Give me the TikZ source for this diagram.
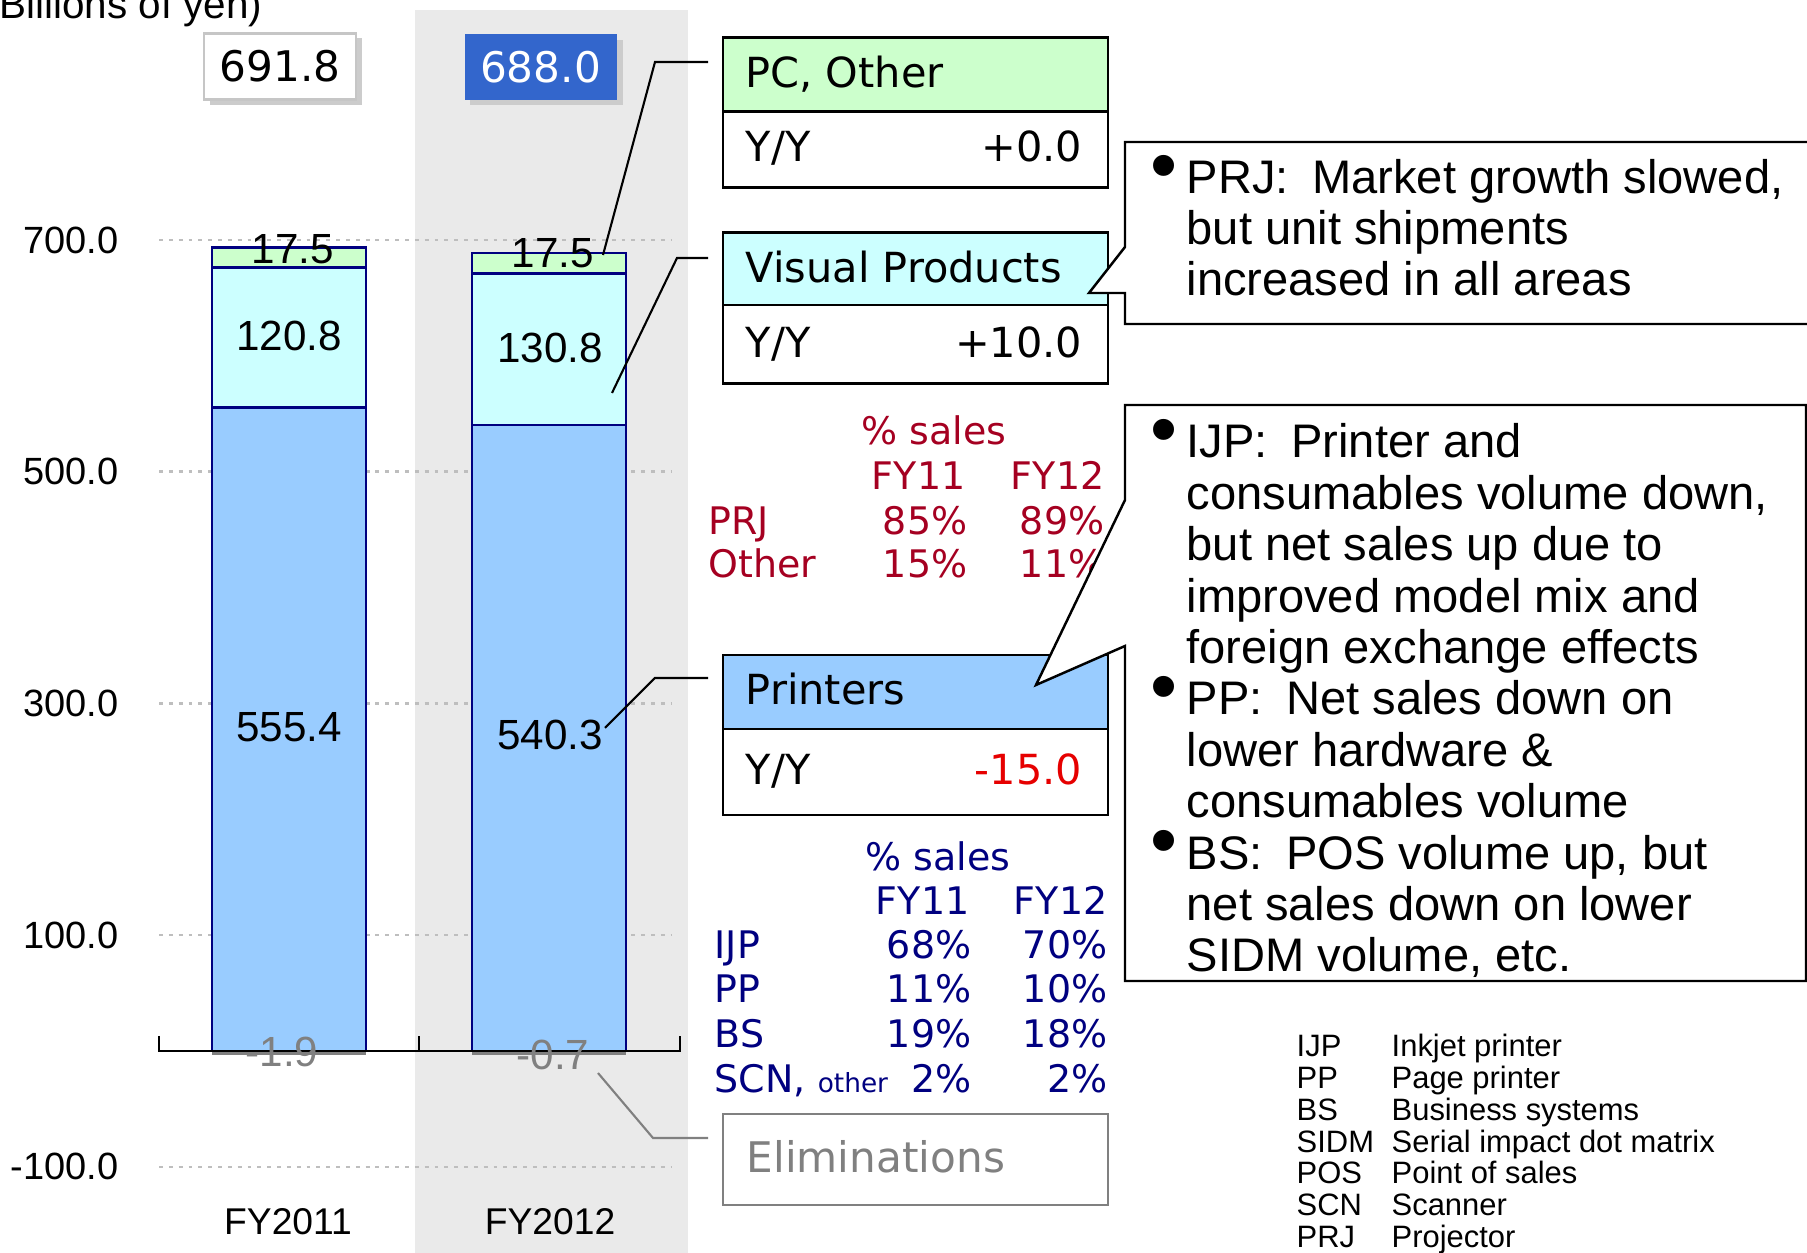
\documentclass[tikz,border=0pt]{standalone}
\usepackage{fontspec}
\setmainfont{Liberation Sans}
\newfontfamily\dejavu{DejaVu Sans}
\definecolor{pcgreen}{RGB}{204,255,204}
\definecolor{vpcyan}{RGB}{204,255,255}
\definecolor{prblue}{RGB}{153,204,255}
\definecolor{barline}{RGB}{0,0,128}
\definecolor{band}{RGB}{234,234,234}
\definecolor{totblue}{RGB}{51,102,204}
\definecolor{prjred}{RGB}{165,0,33}
\definecolor{navytxt}{RGB}{0,0,128}
\definecolor{yyred}{RGB}{230,0,0}
\definecolor{elimgray}{RGB}{128,128,128}
\definecolor{gridgray}{RGB}{190,190,190}
\begin{document}
\begin{tikzpicture}[x=0.1mm, y=-0.1mm,
        every node/.style={inner sep=0pt},
        gridline/.style={gridgray, line width=0.7pt, dash pattern=on 1.1pt off 1.7pt},
        seg/.style={draw=barline, line width=0.7pt},
        lbl/.style={font=\fontsize{12}{14}\selectfont},
        ax/.style={font=\fontsize{10.8}{13}\selectfont, anchor=east},
        total/.style={minimum width=15.2mm, minimum height=6.6mm, font=\dejavu\fontsize{12}{14}\selectfont},
        segbox/.style={draw, line width=0.8pt, minimum width=38.5mm},
        boxtxt/.style={font=\dejavu\fontsize{11.8}{14}\selectfont},
        leader/.style={line width=0.6pt},
        share/.style={font=\dejavu\fontsize{10.8}{13}\selectfont},
        callout/.style={draw, fill=white, line width=0.7pt},
        note/.style={font=\fontsize{13.4}{15}\selectfont, anchor=base west},
        dot/.style={font=\fontsize{22}{24}\selectfont},
        abbr/.style={font=\fontsize{8.8}{10}\selectfont, anchor=base west}]
    \useasboundingbox (0,0) rectangle (1807,1253);
    % shaded FY2012 column
    \fill[band] (415,10) rectangle (688,1253);
    \node[font=\fontsize{11.5}{13}\selectfont, anchor=base east] (unit) at (263,19) {(Billions of yen)};

    % grid and value axis
    \draw[gridline] (159,240) -- (672,240);
    \draw[gridline] (159,471.7) -- (672,471.7);
    \draw[gridline] (159,703.4) -- (672,703.4);
    \draw[gridline] (159,935.1) -- (672,935.1);
    \draw[gridline] (159,1166.9) -- (672,1166.9);
    \node[ax] (y700) at (119,240) {700.0};
    \node[ax] (y500) at (119,471.7) {500.0};
    \node[ax] (y300) at (119,703.4) {300.0};
    \node[ax] (y100) at (119,935.1) {100.0};
    \node[ax] (ym100) at (119,1166.9) {-100.0};

    % FY2011 bar
    \draw[seg, fill=prblue] (212,1051) rectangle (366,407.5);
    \draw[seg, fill=vpcyan] (212,407.5) rectangle (366,267.6);
    \draw[seg, fill=pcgreen] (212,267.6) rectangle (366,247.3);
    \draw[elimgray, line width=1.2pt] (212,1053) -- (366,1053);
    % FY2012 bar
    \draw[seg, fill=prblue] (472,1051) rectangle (626,425);
    \draw[seg, fill=vpcyan] (472,425) rectangle (626,273.5);
    \draw[seg, fill=pcgreen] (472,273.5) rectangle (626,253.2);
    \draw[elimgray, line width=1.2pt] (472,1053) -- (626,1053);

    % category axis
    \draw[line width=0.6pt] (159,1036) -- (159,1051) -- (680,1051) -- (680,1036);
    \draw[line width=0.6pt] (419,1051) -- (419,1036);
    \node[font=\fontsize{10.6}{13}\selectfont] (fy11) at (288,1222) {FY2011};
    \node[font=\fontsize{10.6}{13}\selectfont] (fy12) at (550,1222) {FY2012};

    % segment values
    \node[lbl] (pc11) at (293,249) {17.5};
    \node[lbl] (vp11) at (289,336) {120.8};
    \node[lbl] (pr11) at (289,727) {555.4};
    \node[lbl, elimgray] (el11) at (282,1052) {-1.9};
    \node[lbl] (pc12) at (553,253) {17.5};
    \node[lbl] (vp12) at (550,348) {130.8};
    \node[lbl] (pr12) at (550,735) {540.3};
    \node[lbl, elimgray] (el12) at (553,1055) {-0.7};

    % totals
    \fill[gray!40] (210,38) rectangle (362,105);
    \node[total, draw=gray!45, line width=0.6pt, fill=white] (tot11) at (280,66.5) {691.8};
    \fill[gray!40] (470,40) rectangle (623,105);
    \node[total, fill=totblue, text=white] (tot12) at (540.5,67.5) {688.0};

    % PC, Other
    \node[segbox, fill=pcgreen, minimum height=7.44mm] (pcHead) at (915.5,74.5) {};
    \node[segbox, minimum height=7.56mm] (pcRow) at (915.5,149.5) {};
    \node[boxtxt, anchor=base west] (pcName) at (745,88) {PC, Other};
    \node[boxtxt, anchor=base west] (pcYY) at (745,162) {Y/Y};
    \node[boxtxt, anchor=base east] (pcVal) at (1083,162) {+0.0};
    % Visual Products
    \node[segbox, fill=vpcyan, minimum height=7.27mm] (vpHead) at (915.5,268.65) {};
    \node[segbox, minimum height=7.83mm] (vpRow) at (915.5,344.15) {};
    \node[boxtxt, anchor=base west] (vpName) at (745,283) {Visual Products};
    \node[boxtxt, anchor=base west] (vpYY) at (745,358) {Y/Y};
    \node[boxtxt, anchor=base east] (vpVal) at (1083,358) {+10.0};
    % Printers
    \node[segbox, fill=prblue, minimum height=7.4mm] (prHead) at (915.5,692) {};
    \node[segbox, minimum height=8.6mm] (prRow) at (915.5,772) {};
    \node[boxtxt, anchor=base west] (prName) at (745,705) {Printers};
    \node[boxtxt, anchor=base west] (prYY) at (745,785) {Y/Y};
    \node[boxtxt, anchor=base east, yyred] (prVal) at (1083,785) {-15.0};
    % Eliminations
    \node[segbox, draw=elimgray, minimum height=9.1mm] (elBox) at (915.5,1159.5) {};
    \node[boxtxt, anchor=base west, elimgray, font=\dejavu\fontsize{12}{14}\selectfont] (elName) at (746,1173) {Eliminations};

    % leaders from the bars
    \coordinate (pcStart) at (603,255);
    \coordinate (pcBend) at (655,62);
    \coordinate (pcEnd) at (708,62);
    \coordinate (vpStart) at (612,393);
    \coordinate (vpBend) at (677,258);
    \coordinate (vpEnd) at (708,258);
    \coordinate (prStart) at (605,728);
    \coordinate (prBend) at (655,678);
    \coordinate (prEnd) at (708,678);
    \coordinate (elStart) at (598,1073);
    \coordinate (elBend) at (653,1138);
    \coordinate (elEnd) at (708,1138);
    \draw[leader] (pcStart) -- (pcBend) -- (pcEnd);
    \draw[leader] (vpStart) -- (vpBend) -- (vpEnd);
    \draw[leader] (prStart) -- (prBend) -- (prEnd);
    \draw[leader, elimgray] (elStart) -- (elBend) -- (elEnd);

    % % sales, Visual Products
    \node[share, prjred, anchor=base] (vpPct) at (934,445) {\% sales};
    \node[share, prjred, anchor=base east] (vpF11) at (966,490) {FY11};
    \node[share, prjred, anchor=base east] (vpF12) at (1105,490) {FY12};
    \node[share, prjred, anchor=base west] (vpPRJ) at (708,535) {PRJ};
    \node[share, prjred, anchor=base east] (vpPRJa) at (968,535) {85\%};
    \node[share, prjred, anchor=base east] (vpPRJb) at (1105,535) {89\%};
    \node[share, prjred, anchor=base west] (vpOth) at (708,578) {Other};
    \node[share, prjred, anchor=base east] (vpOtha) at (968,578) {15\%};
    \node[share, prjred, anchor=base east] (vpOthb) at (1105,578) {11\%};

    % % sales, Printers
    \node[share, navytxt, anchor=base] (prPct) at (938,871) {\% sales};
    \node[share, navytxt, anchor=base east] (prF11) at (970,915) {FY11};
    \node[share, navytxt, anchor=base east] (prF12) at (1108,915) {FY12};
    \node[share, navytxt, anchor=base west] (prIJP) at (714,959) {IJP};
    \node[share, navytxt, anchor=base east] (prIJPa) at (972,959) {68\%};
    \node[share, navytxt, anchor=base east] (prIJPb) at (1108,959) {70\%};
    \node[share, navytxt, anchor=base west] (prPP) at (714,1003) {PP};
    \node[share, navytxt, anchor=base east] (prPPa) at (972,1003) {11\%};
    \node[share, navytxt, anchor=base east] (prPPb) at (1108,1003) {10\%};
    \node[share, navytxt, anchor=base west] (prBS) at (714,1048) {BS};
    \node[share, navytxt, anchor=base east] (prBSa) at (972,1048) {19\%};
    \node[share, navytxt, anchor=base east] (prBSb) at (1108,1048) {18\%};
    \node[share, navytxt, anchor=base west] (prSCN) at (714,1093) {SCN, {\fontsize{7.5}{9}\selectfont other}};
    \node[share, navytxt, anchor=base east] (prSCNa) at (972,1093) {2\%};
    \node[share, navytxt, anchor=base east] (prSCNb) at (1108,1093) {2\%};

    % comment callouts
    \draw[callout] (1125,142) -- (1812,142) -- (1812,324) -- (1125,324)
        -- (1125,293) -- (1089,293) -- (1125,247) -- cycle;
    \node[dot] (prjDot) at (1164,173) {\textbullet};
    \node[note] (prjA) at (1186,194) {PRJ:\hspace{0.5em}Market growth slowed,};
    \node[note] (prjB) at (1186,245) {but unit shipments};
    \node[note] (prjC) at (1186,296) {increased in all areas};

    \draw[callout] (1125,405) -- (1806,405) -- (1806,981) -- (1125,981)
        -- (1125,646) -- (1036,685) -- (1125,500) -- cycle;
    \node[dot] (ijpDot) at (1164,437) {\textbullet};
    \node[note] (ijpA) at (1186,458) {IJP:\hspace{0.5em}Printer and};
    \node[note] (ijpB) at (1186,509.4) {consumables volume down,};
    \node[note] (ijpC) at (1186,560.8) {but net sales up due to};
    \node[note] (ijpD) at (1186,612.2) {improved model mix and};
    \node[note] (ijpE) at (1186,663.6) {foreign exchange effects};
    \node[dot] (ppDot) at (1164,694) {\textbullet};
    \node[note] (ppA) at (1186,715) {PP:\hspace{0.5em}Net sales down on};
    \node[note] (ppB) at (1186,766.4) {lower hardware \&};
    \node[note] (ppC) at (1186,817.8) {consumables volume};
    \node[dot] (bsDot) at (1164,848) {\textbullet};
    \node[note] (bsA) at (1186,869.2) {BS:\hspace{0.5em}POS volume up, but};
    \node[note] (bsB) at (1186,920.6) {net sales down on lower};
    \node[note] (bsC) at (1186,972) {SIDM volume, etc.};

    % abbreviations
    \node[abbr] (abIJP) at (1296,1057) {IJP};
    \node[abbr] (abPP) at (1296,1088.7) {PP};
    \node[abbr] (abBS) at (1296,1120.4) {BS};
    \node[abbr] (abSIDM) at (1296,1152.1) {SIDM};
    \node[abbr] (abPOS) at (1296,1183.8) {POS};
    \node[abbr] (abSCN) at (1296,1215.5) {SCN};
    \node[abbr] (abPRJ) at (1296,1247.2) {PRJ};
    \node[abbr] (dsIJP) at (1391,1057) {Inkjet printer};
    \node[abbr] (dsPP) at (1391,1088.7) {Page printer};
    \node[abbr] (dsBS) at (1391,1120.4) {Business systems};
    \node[abbr] (dsSIDM) at (1391,1152.1) {Serial impact dot matrix};
    \node[abbr] (dsPOS) at (1391,1183.8) {Point of sales};
    \node[abbr] (dsSCN) at (1391,1215.5) {Scanner};
    \node[abbr] (dsPRJ) at (1391,1247.2) {Projector};
\end{tikzpicture}
\end{document}
